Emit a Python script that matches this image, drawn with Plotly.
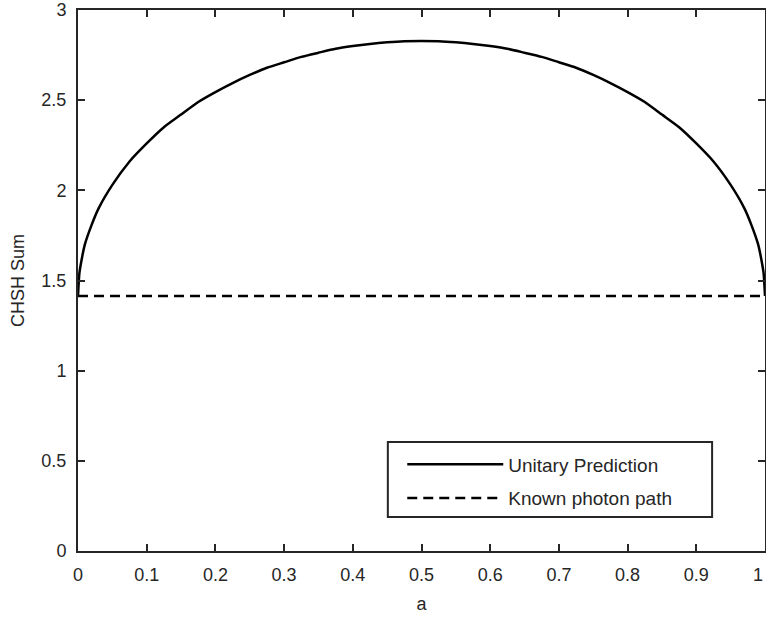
import plotly.graph_objects as go

# values
a_vals = [0.0, 0.002, 0.005, 0.01, 0.02, 0.03, 0.05, 0.075, 0.1, 0.125, 0.15, 0.175, 0.2, 0.225, 0.25, 0.275,
          0.3, 0.325, 0.35, 0.375, 0.4, 0.425, 0.45, 0.475, 0.5,
          0.525, 0.55, 0.575, 0.6, 0.625, 0.65, 0.675, 0.7, 0.725, 0.75, 0.775, 0.8, 0.825, 0.85, 0.875, 0.9,
          0.925, 0.95, 0.97, 0.98, 0.99, 0.995, 0.998, 1.0]
unitary = [1.414, 1.54, 1.61, 1.70, 1.81, 1.90, 2.03, 2.16, 2.26, 2.35, 2.42, 2.49, 2.545, 2.595, 2.64, 2.68,
           2.71, 2.74, 2.763, 2.785, 2.80, 2.812, 2.821, 2.827, 2.828,
           2.827, 2.821, 2.812, 2.80, 2.785, 2.763, 2.74, 2.71, 2.68, 2.64, 2.595, 2.545, 2.49, 2.42, 2.35, 2.26,
           2.16, 2.03, 1.90, 1.81, 1.70, 1.61, 1.54, 1.414]
known_a = [0.0, 1.0]
known = [1.414, 1.414]

x_ticks = [0, 0.1, 0.2, 0.3, 0.4, 0.5, 0.6, 0.7, 0.8, 0.9]
x_labels = ["0", "0.1", "0.2", "0.3", "0.4", "0.5", "0.6", "0.7", "0.8", "0.9"]
x_last_tick = 1
x_last_label = "1"
y_ticks = [0, 0.5, 1, 1.5, 2, 2.5, 3]
y_labels = ["0", "0.5", "1", "1.5", "2", "2.5", "3"]

fig = go.Figure()
fig.add_trace(go.Scatter(x=a_vals, y=unitary, mode="lines", name="Unitary Prediction", legendgroup="u",
                         line=dict(color="black", width=2.5, shape="spline", smoothing=0.6)))
fig.add_trace(go.Scatter(x=known_a, y=known, mode="lines", name="Known photon path", legendgroup="k",
                         line=dict(color="black", width=2.5, dash="10px,6px")))

axis_common = dict(showgrid=False, zeroline=False, showline=True, linecolor="#262626", linewidth=2,
                   mirror="ticks", ticks="inside", ticklen=7, tickwidth=2, tickcolor="#262626",
                   automargin=False,
                   tickfont=dict(family="Liberation Sans, Arial", size=18, color="#262626"))

fig.update_layout(
    width=766, height=619,
    margin=dict(l=78, r=1, t=10, b=68),
    plot_bgcolor="white", paper_bgcolor="white",
    font=dict(family="Liberation Sans, Arial", size=17, color="#262626"),
    xaxis=dict(range=[0, 1], tickvals=x_ticks + [x_last_tick], ticktext=x_labels + [""], ticklabelstandoff=6,
               title=dict(text="a", font=dict(size=18), standoff=14), **axis_common),
    yaxis=dict(range=[0, 3], tickvals=y_ticks, ticktext=y_labels, ticklabelstandoff=6,
               title=dict(text="CHSH Sum", font=dict(size=18), standoff=12), **axis_common),
    legend=dict(x=0.472, y=0.195, xanchor="left", yanchor="top",
                borderwidth=0, bgcolor="rgba(0,0,0,0)",
                font=dict(size=19, color="#262626"), itemwidth=96,
                tracegroupgap=6),
)
# legend frame
fig.add_shape(type="rect", xref="paper", yref="paper", x0=0.451, x1=0.923, y0=0.063, y1=0.2015,
              line=dict(color="#262626", width=2), fillcolor="white", layer="above")
# last x tick label, kept inside the page
fig.add_annotation(x=x_last_tick, y=0, xref="x", yref="paper", xanchor="right", yanchor="top", yshift=-12,
                   showarrow=False, text=x_last_label, font=dict(size=18, color="#262626"))

fig.write_html("out.html", config={"displayModeBar": False},
               post_script="document.body.style.margin='0';document.body.style.overflow='hidden';")
